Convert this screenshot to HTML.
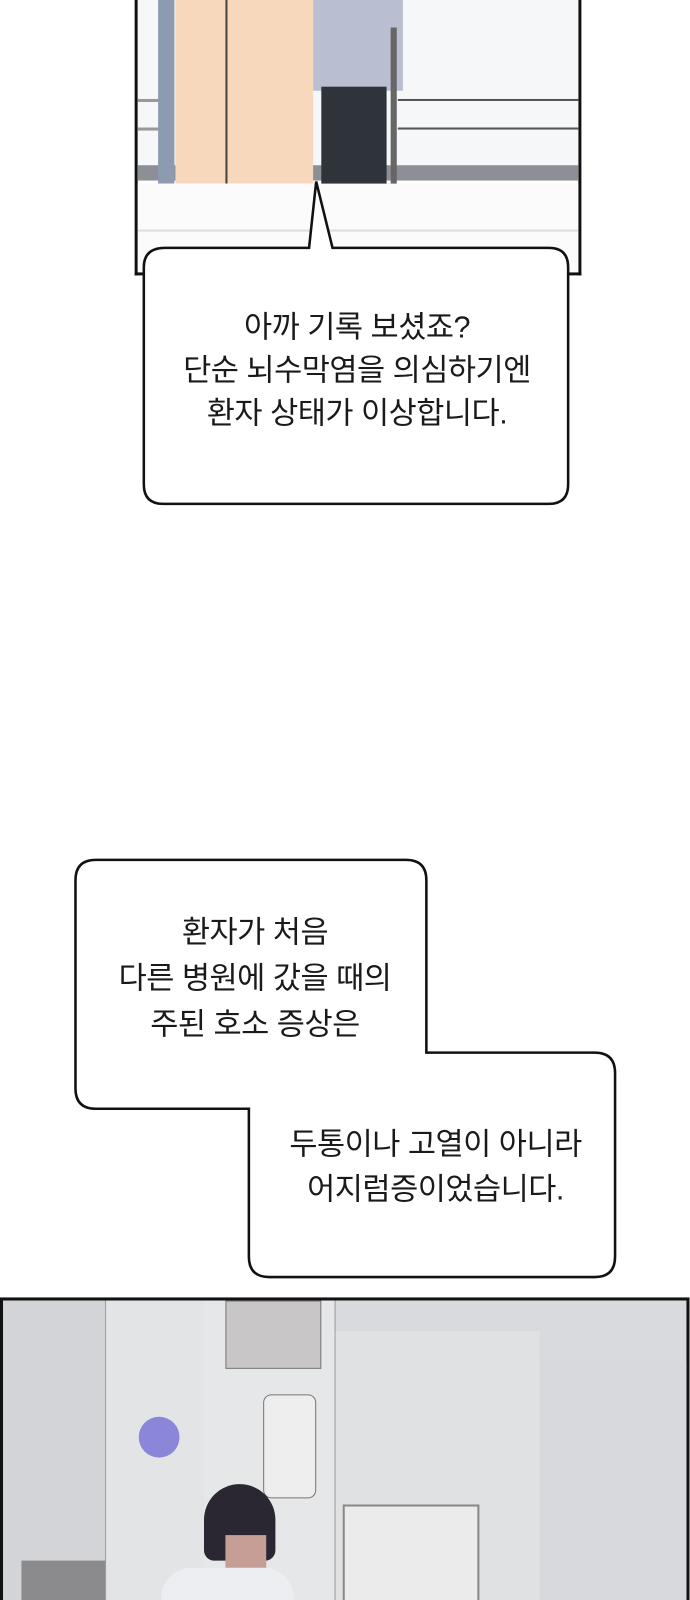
<!DOCTYPE html>
<html><head><meta charset="utf-8"><style>
html,body{margin:0;padding:0;background:#fff;width:690px;height:1600px;overflow:hidden;position:relative;font-family:"Liberation Sans","Noto Sans CJK KR",sans-serif;}
#w{position:absolute;left:0;top:0;width:690px;height:1600px;transform:scale(1.02);transform-origin:0 0;}
.a{position:absolute;}
.t{position:absolute;text-align:center;font-size:30px;color:#1a1a1a;white-space:nowrap;letter-spacing:-0.5px;}
</style></head><body><div id="w">
<!-- top panel -->
<div class="a" style="left:132px;top:-3px;width:432px;height:270px;border:3px solid #111;border-top:none;background:#fff;overflow:hidden">
  <div class="a" style="left:0;top:0;width:432px;height:180px;background:#f6f7f9"></div>
  <div class="a" style="left:0;top:100px;width:22px;height:3px;background:#999"></div>
  <div class="a" style="left:0;top:128px;width:22px;height:3px;background:#999"></div>
  <div class="a" style="left:0;top:165px;width:432px;height:15px;background:#8d8f96"></div>
  <div class="a" style="left:20px;top:0;width:16px;height:183px;background:#8e9ab0"></div>
  <div class="a" style="left:37px;top:0;width:135px;height:183px;background:#f8d8bd"></div>
  <div class="a" style="left:86px;top:0;width:2px;height:183px;background:#444"></div>
  <div class="a" style="left:255px;top:100px;width:180px;height:2px;background:#555"></div>
  <div class="a" style="left:255px;top:128px;width:180px;height:2px;background:#555"></div>
  <div class="a" style="left:172px;top:0;width:88px;height:92px;background:#b9bfd0"></div>
  <div class="a" style="left:180px;top:88px;width:64px;height:97px;background:#2f343b"></div>
  <div class="a" style="left:176px;top:183px;width:80px;height:16px;background:#555;border-radius:8px"></div>
  <div class="a" style="left:248px;top:30px;width:6px;height:165px;background:#666"></div>
  <div class="a" style="left:0;top:183px;width:432px;height:87px;background:#fbfbfc"></div>
  <div class="a" style="left:0;top:228px;width:432px;height:2px;background:#ddd"></div>
</div>
<svg class="a" style="left:0;top:0" width="690" height="1600">
  <path d="M162 243 L303 243 L310 178 L326 243 L538 243 Q557 243 557 262 L557 475 Q557 494 538 494 L160 494 Q141 494 141 475 L141 262 Q141 243 162 243 Z" fill="#fff" stroke="#111" stroke-width="2.5"/>
  <path d="M94 843 L398 843 Q418 843 418 863 L418 1032 L583 1032 Q603 1032 603 1052 L603 1232 Q603 1252 583 1252 L264 1252 Q244 1252 244 1232 L244 1087 L94 1087 Q74 1087 74 1067 L74 863 Q74 843 94 843 Z" fill="#fff" stroke="#111" stroke-width="2.5"/>
</svg>
<div class="t" style="left:140px;width:420px;top:301px;line-height:42px">아까 기록 보셨죠?<br>단순 뇌수막염을 의심하기엔<br>환자 상태가 이상합니다.</div>
<div class="t" style="left:74px;width:352px;top:892px;line-height:45px">환자가 처음<br>다른 병원에 갔을 때의<br>주된 호소 증상은</div>
<div class="t" style="left:244px;width:366px;top:1101px;line-height:44px">두통이나 고열이 아니라<br>어지럼증이었습니다.</div>
<!-- bottom panel -->
<div class="a" style="left:0;top:1272px;width:670px;height:340px;border:3px solid #111;background:#d9dadd;overflow:hidden">
  <div class="a" style="left:0;top:0;width:100px;height:340px;background:#d3d4d7"></div>
  <div class="a" style="left:100px;top:0;width:96px;height:340px;background:#e3e4e6;border-left:1px solid #999;border-right:1px solid #777"></div>
  <div class="a" style="left:197px;top:0;width:128px;height:340px;background:#e6e7e9;border-right:1px solid #999"></div>
  <div class="a" style="left:218px;top:0;width:92px;height:65px;background:#c9c6c8;border:1px solid #777"></div>
  <div class="a" style="left:255px;top:92px;width:50px;height:100px;background:#eee;border:1px solid #777;border-radius:8px"></div>
  <div class="a" style="left:326px;top:30px;width:200px;height:310px;background:#e0e1e3"></div>
  <div class="a" style="left:526px;top:60px;width:152px;height:280px;background:#d8d9dc"></div>
  <div class="a" style="left:333px;top:200px;width:130px;height:140px;background:#ebebec;border:2px solid #888"></div>
  <div class="a" style="left:197px;top:180px;width:70px;height:75px;background:#2a2632;border-radius:35px 35px 10px 10px"></div>
  <div class="a" style="left:218px;top:230px;width:40px;height:40px;background:#c79e95"></div>
  <div class="a" style="left:155px;top:262px;width:130px;height:80px;background:#eceef2;border-radius:30px 30px 0 0"></div>
  <div class="a" style="left:133px;top:114px;width:40px;height:40px;background:#8a86d8;border-radius:50%"></div>
  <div class="a" style="left:18px;top:255px;width:82px;height:85px;background:#8b8b8d"></div>
</div>
</div></body></html>
